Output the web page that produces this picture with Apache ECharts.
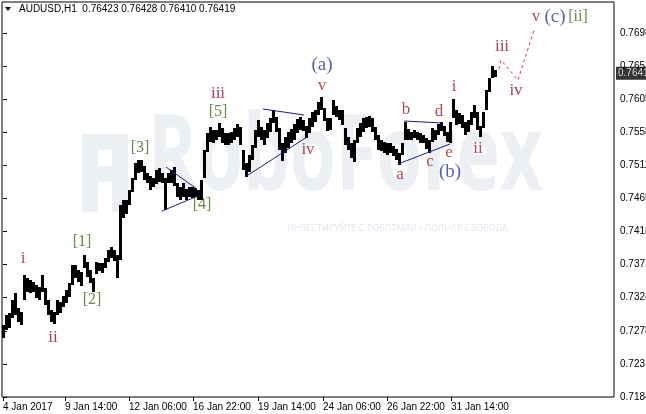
<!DOCTYPE html>
<html>
<head>
<meta charset="utf-8">
<script src="https://cdn.jsdelivr.net/npm/echarts@6/dist/echarts.min.js"></script>
<style>
  html, body { margin: 0; padding: 0; background: #fff; }
  #chart { width: 646px; height: 414px; }
</style>
</head>
<body>
<div id="chart"></div>
<script>
// AUDUSD; one bar per 3 hours
const hoursPerBar = 3;
const highs = [
  0.7286, 0.7300, 0.7303, 0.7321, 0.7331, 0.7310, 0.7305, 0.7357, 0.7353, 0.7350,
  0.7347, 0.7343, 0.7340, 0.7357, 0.7338, 0.7321, 0.7307, 0.7305, 0.7321, 0.7319,
  0.7327, 0.7336, 0.7346, 0.7371, 0.7371, 0.7364, 0.7361, 0.7385, 0.7375, 0.7364,
  0.7353, 0.7375, 0.7374, 0.7374, 0.7381, 0.7392, 0.7396, 0.7392, 0.7385, 0.7456,
  0.7463, 0.7463, 0.7477, 0.7494, 0.7515, 0.7519, 0.7519, 0.7511, 0.7501, 0.7497,
  0.7494, 0.7505, 0.7508, 0.7501, 0.7494, 0.7501, 0.7505, 0.7509, 0.7487, 0.7481,
  0.7487, 0.7478, 0.7481, 0.7481, 0.7480, 0.7477, 0.7491, 0.7533, 0.7557, 0.7566,
  0.7562, 0.7562, 0.7572, 0.7565, 0.7557, 0.7557, 0.7559, 0.7565, 0.7570, 0.7566,
  0.7533, 0.7515, 0.7526, 0.7541, 0.7562, 0.7576, 0.7566, 0.7562, 0.7572, 0.7579,
  0.7590, 0.7580, 0.7565, 0.7543, 0.7552, 0.7559, 0.7563, 0.7570, 0.7577, 0.7580,
  0.7576, 0.7567, 0.7579, 0.7587, 0.7590, 0.7601, 0.7608, 0.7593, 0.7579, 0.7579,
  0.7604, 0.7596, 0.7590, 0.7590, 0.7565, 0.7552, 0.7543, 0.7548, 0.7565, 0.7572,
  0.7579, 0.7580, 0.7582, 0.7579, 0.7566, 0.7555, 0.7548, 0.7545, 0.7543, 0.7543,
  0.7539, 0.7535, 0.7529, 0.7543, 0.7573, 0.7563, 0.7559, 0.7562, 0.7559, 0.7557,
  0.7555, 0.7550, 0.7548, 0.7565, 0.7562, 0.7570, 0.7573, 0.7567, 0.7559, 0.7573,
  0.7605, 0.7590, 0.7586, 0.7583, 0.7573, 0.7576, 0.7587, 0.7597, 0.7587, 0.7567,
  0.7587, 0.7618, 0.7635, 0.7652, 0.7646
];
const lows = [
  0.7268, 0.7279, 0.7282, 0.7296, 0.7300, 0.7290, 0.7286, 0.7321, 0.7333, 0.7331,
  0.7333, 0.7324, 0.7321, 0.7333, 0.7314, 0.7300, 0.7290, 0.7288, 0.7300, 0.7303,
  0.7312, 0.7317, 0.7326, 0.7343, 0.7353, 0.7347, 0.7341, 0.7367, 0.7354, 0.7346,
  0.7333, 0.7358, 0.7362, 0.7360, 0.7367, 0.7375, 0.7381, 0.7377, 0.7353, 0.7378,
  0.7437, 0.7443, 0.7456, 0.7474, 0.7491, 0.7501, 0.7502, 0.7491, 0.7487, 0.7477,
  0.7481, 0.7485, 0.7488, 0.7487, 0.7449, 0.7487, 0.7487, 0.7483, 0.7467, 0.7463,
  0.7467, 0.7463, 0.7467, 0.7466, 0.7467, 0.7463, 0.7463, 0.7494, 0.7531, 0.7545,
  0.7543, 0.7548, 0.7552, 0.7543, 0.7541, 0.7541, 0.7543, 0.7548, 0.7552, 0.7541,
  0.7505, 0.7495, 0.7502, 0.7519, 0.7536, 0.7552, 0.7548, 0.7541, 0.7550, 0.7559,
  0.7572, 0.7559, 0.7533, 0.7518, 0.7529, 0.7536, 0.7543, 0.7548, 0.7557, 0.7562,
  0.7560, 0.7550, 0.7557, 0.7566, 0.7573, 0.7583, 0.7590, 0.7574, 0.7560, 0.7562,
  0.7583, 0.7580, 0.7576, 0.7569, 0.7541, 0.7533, 0.7522, 0.7516, 0.7543, 0.7552,
  0.7559, 0.7565, 0.7566, 0.7559, 0.7548, 0.7533, 0.7532, 0.7529, 0.7526, 0.7529,
  0.7525, 0.7519, 0.7512, 0.7526, 0.7548, 0.7548, 0.7548, 0.7550, 0.7548, 0.7543,
  0.7543, 0.7535, 0.7529, 0.7545, 0.7548, 0.7555, 0.7560, 0.7553, 0.7545, 0.7543,
  0.7579, 0.7569, 0.7570, 0.7565, 0.7555, 0.7559, 0.7569, 0.7579, 0.7562, 0.7552,
  0.7565, 0.7590, 0.7615, 0.7635, 0.7637
];
const lastPrice = 0.76419;

// axis ticks
const yTicks = [0.71845, 0.72312, 0.72780, 0.73249, 0.73716, 0.74184, 0.74652, 0.75118, 0.75585, 0.76052, 0.76520, 0.76987];
const yTickLabels = ['0.71845', '0.72312', '0.72780', '0.73249', '0.73716', '0.74184', '0.74652', '0.75118', '0.75585', '0.76052', '0.76520', '0.76987'];
const xTicks = [0, 62, 126, 190, 255, 320, 384, 448];   // hours from first bar
const xTickLabels = ['4 Jan 2017', '9 Jan 14:00', '12 Jan 06:00', '16 Jan 22:00', '19 Jan 14:00', '24 Jan 06:00', '26 Jan 22:00', '31 Jan 14:00'];

// wave marks: [text, hour, price, kind]
const waveLabels = [
  ['i', 20, 0.73808, 'minor'], ['ii', 50, 0.72692, 'minor2'],
  ['[1]', 79, 0.74035, 'major'], ['[2]', 89, 0.73215, 'major'],
  ['[3]', 137, 0.75362, 'major'], ['[4]', 199, 0.74557, 'major'],
  ['[5]', 215, 0.75871, 'major'], ['iii', 215, 0.76125, 'minor2'],
  ['iv', 305, 0.75334, 'minor'], ['v', 319, 0.76252, 'minor'],
  ['(a)', 319, 0.76535, 'inter'],
  ['a', 397, 0.74981, 'minor'], ['b', 403, 0.75913, 'minor'],
  ['c', 427, 0.75165, 'minor'], ['d', 436, 0.75871, 'minor'],
  ['e', 446, 0.75292, 'minor'], ['(b)', 447, 0.75023, 'inter'],
  ['i', 451, 0.76224, 'minor'], ['ii', 475, 0.75362, 'minor'],
  ['iii', 499, 0.76789, 'minor2'], ['iv', 513, 0.76168, 'minor2'],
  ['v', 533, 0.77213, 'minor'], ['(c)', 552, 0.77213, 'inter'],
  ['[ii]', 575, 0.77213, 'major']
];
const trendLines = [
  [[163, 0.75094], [194, 0.74783]],
  [[159, 0.74472], [197, 0.74698]],
  [[260, 0.75913], [301, 0.75829]],
  [[242, 0.74953], [304, 0.75518]],
  [[401, 0.75744], [440, 0.75715]],
  [[395, 0.75136], [447, 0.75419]]
];
const projection = [[496, 0.76478], [498, 0.76605], [515, 0.76323], [531, 0.77029]];

const kindColor = { minor: '#9a1c22', minor2: '#86103e', major: '#3d6e12', inter: '#2a3a98' };
const kindSize = { minor: 17, minor2: 17, major: 16, inter: 19 };

const chart = echarts.init(document.getElementById('chart'));
const uiFont = 'Liberation Sans';
const xMax = 611;

const barData = highs.map((h, i) => [i * hoursPerBar, lows[i], h]);

const series = [
  {
    type: 'custom',
    data: barData,
    z: 3,
    renderItem: (params, api) => {
      const top = api.coord([api.value(0), api.value(2)]);
      const bot = api.coord([api.value(0), api.value(1)]);
      const x0 = Math.round(top[0]) - 1;
      const y0 = Math.round(top[1]);
      return {
        type: 'rect',
        shape: { x: x0, y: y0, width: 3, height: Math.max(1, Math.round(bot[1]) - y0) },
        style: { fill: '#000' }
      };
    }
  },
  {
    type: 'line',
    data: projection,
    symbol: 'none',
    z: 4,
    lineStyle: { color: '#e8285c', width: 1, type: [3, 3] }
  },
  {
    type: 'scatter',
    symbolSize: 0,
    z: 6,
    data: waveLabels.map(w => ({
      name: w[0],
      value: [w[1], w[2]],
      label: { color: kindColor[w[3]], fontSize: kindSize[w[3]] }
    })),
    label: {
      show: true,
      position: 'inside',
      formatter: p => p.name,
      fontFamily: 'Liberation Serif'
    }
  },
  {
    // current price box on the price scale
    type: 'scatter',
    symbolSize: 0,
    clip: false,
    z: 10,
    data: [[xMax, lastPrice]],
    label: {
      show: true,
      position: 'right',
      distance: 2,
      formatter: lastPrice.toFixed(5),
      color: '#fff',
      backgroundColor: '#000',
      padding: [2, 2, 1, 2],
      fontSize: 10,
      fontFamily: uiFont
    }
  }
];
trendLines.forEach(seg => {
  series.push({
    type: 'line',
    data: seg,
    symbol: 'none',
    z: 4,
    lineStyle: { color: '#1c1c8c', width: 1 }
  });
});

chart.setOption({
  animation: false,
  backgroundColor: '#fff',
  grid: {
    left: 2, right: 32, top: 2, bottom: 17,
    outerBoundsMode: 'none',
    show: true, borderColor: '#000', borderWidth: 1
  },
  xAxis: {
    type: 'value',
    min: -1,
    max: xMax,
    axisLine: { show: false },
    splitLine: { show: false },
    axisTick: { customValues: xTicks, length: 4, lineStyle: { color: '#000' } },
    axisLabel: {
      customValues: xTicks,
      align: 'left',
      margin: 5,
      color: '#000',
      fontSize: 10,
      fontFamily: uiFont,
      formatter: v => xTickLabels[xTicks.indexOf(v)]
    }
  },
  yAxis: {
    type: 'value',
    position: 'right',
    min: 0.71845,
    max: 0.77425,
    axisLine: { show: false },
    splitLine: { show: false },
    axisTick: { customValues: yTicks, length: 4, lineStyle: { color: '#000' } },
    axisLabel: {
      customValues: yTicks,
      margin: 6,
      color: '#000',
      fontSize: 10,
      fontFamily: uiFont,
      formatter: v => {
        const i = yTicks.findIndex(t => Math.abs(t - v) < 1e-7);
        return i >= 0 ? yTickLabels[i] : '';
      }
    }
  },
  graphic: [
    // watermark
    {
      type: 'group', z: 0, silent: true,
      children: [
        { type: 'rect', shape: { x: 82, y: 134, width: 16, height: 78 }, style: { fill: '#eceff4' } },
        { type: 'rect', shape: { x: 82, y: 134, width: 46, height: 16 }, style: { fill: '#eceff4' } },
        { type: 'rect', shape: { x: 112, y: 134, width: 16, height: 48 }, style: { fill: '#eceff4' } },
        { type: 'rect', shape: { x: 98, y: 166, width: 30, height: 16 }, style: { fill: '#eceff4' } },
        { type: 'rect', shape: { x: 112, y: 182, width: 16, height: 30 }, style: { fill: '#eceff4' } },
        {
          type: 'text', x: 148, y: 213, scaleX: 0.7,
          style: { text: 'RoboForex', fill: '#eceff4', font: 'bold 106px "Open Sans"', textVerticalAlign: 'bottom' }
        },
        {
          type: 'text', x: 287, y: 224,
          style: { text: 'ИНВЕСТИРУЙТЕ С РОБОТАМИ • ПОЛНАЯ СВОБОДА', fill: '#e3e7ee', font: '9px "Noto Sans"' }
        }
      ]
    },
    // title
    { type: 'polygon', z: 100, shape: { points: [[5, 7], [11, 7], [8, 11]] }, style: { fill: '#000' } },
    {
      type: 'text', x: 19, y: 4, z: 100,
      style: { text: 'AUDUSD,H1  0.76423 0.76428 0.76410 0.76419', fill: '#000', font: '10px "Liberation Sans"' }
    }
  ],
  series: series
});
</script>
</body>
</html>
